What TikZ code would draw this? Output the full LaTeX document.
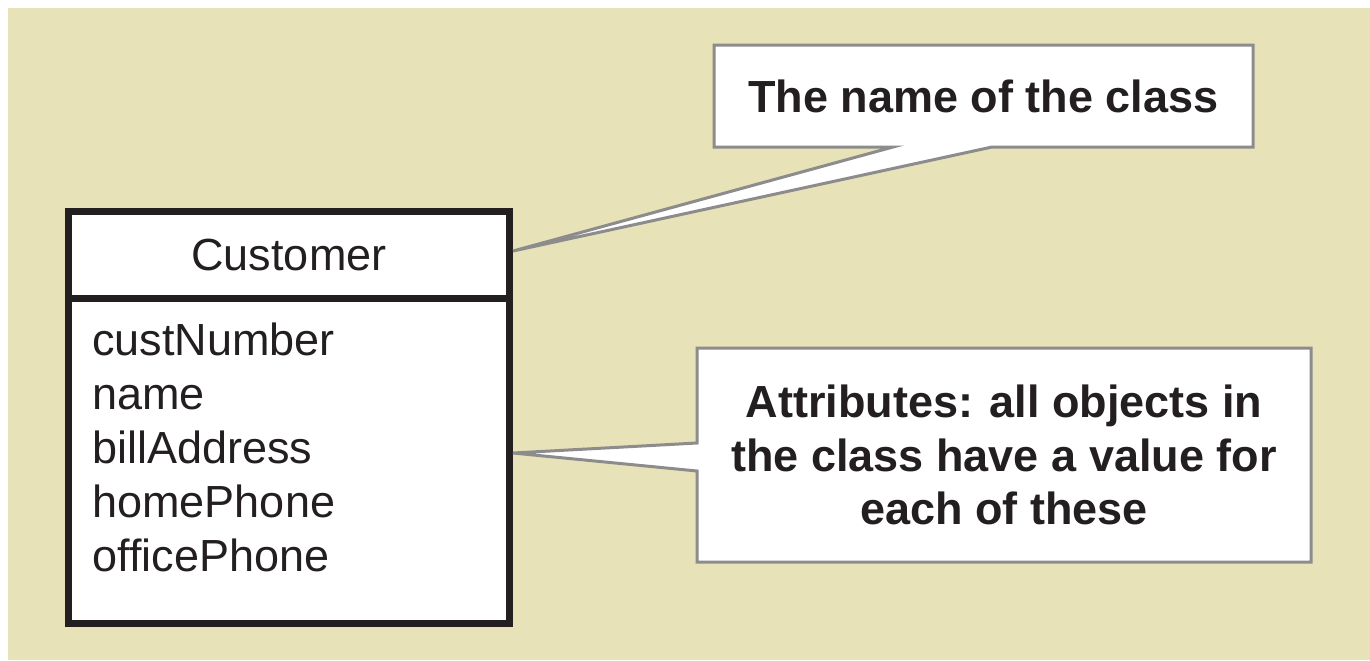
\documentclass[tikz,border=0pt]{standalone}
\usepackage{fontspec}
\setmainfont{Liberation Sans}
\usepackage{xcolor}
\usetikzlibrary{calc}
\definecolor{tanback}{HTML}{E8E2B8}
\definecolor{inkdark}{HTML}{231F20}
\definecolor{notegray}{HTML}{8C8C8C}

\begin{document}
\begin{tikzpicture}[x=0.5pt,y=-0.5pt,
	classpart/.style={draw=inkdark,line width=3.5pt,fill=white,minimum width=220.5pt,inner sep=0pt,outer sep=1.75pt},
	classtext/.style={text=inkdark,font=\fontsize{22.5}{26.9}\selectfont},
	notebox/.style={fill=white,inner sep=0pt,outer sep=0pt,text=inkdark,align=center,font=\bfseries\fontsize{22.5}{26.8}\selectfont},
	noteline/.style={draw=notegray,line width=1.5pt,line join=miter}]
	\useasboundingbox (0,0) rectangle (1370,660);
	% Background
	\fill[tanback] (8,8) rectangle (1370,660);

	% Class name
	\draw (289,255) node [classpart,classtext,minimum height=43.5pt] (cname) {Customer};
	% Attribute part
	\draw (289,461) node [classpart,minimum height=162.5pt] (attrbox) {};
	% Text Node
	\draw (92,355) node [anchor=base west,inner sep=0pt,classtext] (custnum) {custNumber};
	% Text Node
	\draw (92,409) node [anchor=base west,inner sep=0pt,classtext] (name) {name};
	% Text Node
	\draw (92,463) node [anchor=base west,inner sep=0pt,classtext] (billaddr) {billAddress};
	% Text Node
	\draw (92,517) node [anchor=base west,inner sep=0pt,classtext] (homeph) {homePhone};
	% Text Node
	\draw (92,571) node [anchor=base west,inner sep=0pt,classtext] (officeph) {officePhone};

	% Note on the name
	\coordinate (nametip) at ($(cname.east)+(0,-4)$);
	\draw (983.5,96) node [notebox,minimum width=269.5pt,minimum height=51pt] (namenote) {The name of the class};
	\fill[white] ($(namenote.south west)+(179,0)$) -- (nametip) -- ($(namenote.south west)+(278,0)$) -- cycle;
	\draw[noteline] (namenote.north west) -- (namenote.north east) -- (namenote.south east) -- ($(namenote.south west)+(278,0)$) -- (nametip) -- ($(namenote.south west)+(179,0)$) -- (namenote.south west) -- cycle;

	% Note on the attributes
	\coordinate (attrtip) at ($(billaddr.base -| attrbox.east)+(0,-10)$);
	\draw (1004,455) node [notebox,minimum width=307pt,minimum height=107pt] (attrnote) {Attributes: all objects in\\the class have a value for\\each of these};
	\fill[white] ($(attrnote.north west)+(0,95)$) -- (attrtip) -- ($(attrnote.north west)+(0,123)$) -- cycle;
	\draw[noteline] (attrnote.north west) -- (attrnote.north east) -- (attrnote.south east) -- (attrnote.south west) -- ($(attrnote.north west)+(0,123)$) -- (attrtip) -- ($(attrnote.north west)+(0,95)$) -- cycle;
\end{tikzpicture}
\end{document}
